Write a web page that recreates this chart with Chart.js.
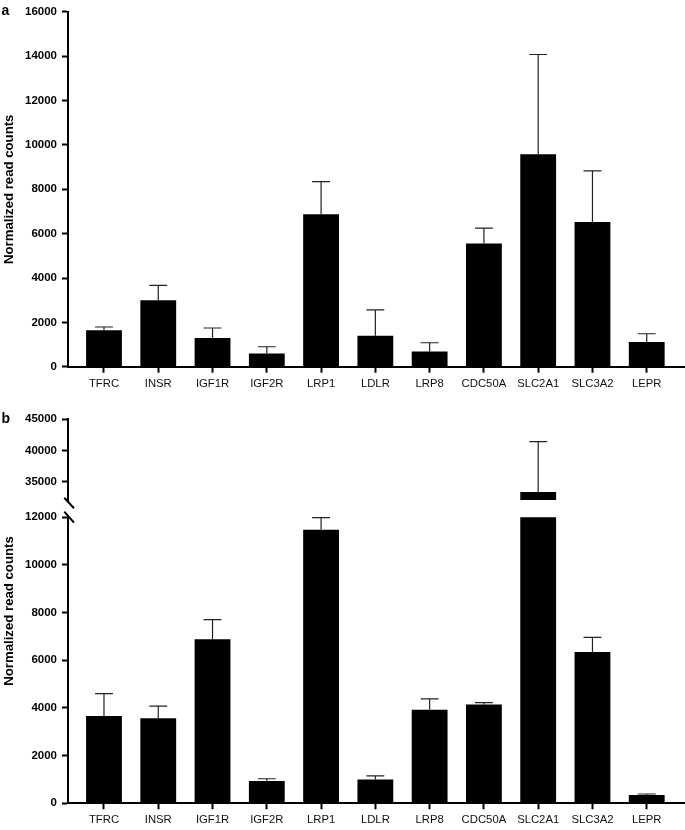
<!DOCTYPE html>
<html>
<head>
<meta charset="utf-8">
<title>Normalized read counts</title>
<script src="https://cdn.jsdelivr.net/npm/chart.js@4.4.1/dist/chart.umd.min.js"></script>
<style>
  html, body { margin: 0; padding: 0; background: #fff; }
  #wrap { position: relative; width: 685px; height: 830px; }
  canvas { position: absolute; left: 0; }
</style>
</head>
<body>
<div id="wrap">
  <canvas id="chartA" width="685" height="400" style="top:0"></canvas>
  <canvas id="chartBLow" width="685" height="430" style="top:400px"></canvas>
  <canvas id="chartBHigh" width="685" height="112" style="top:400px"></canvas>
</div>
<script>
// genes on the x axis, same order in both panels
const genes = ['TFRC', 'INSR', 'IGF1R', 'IGF2R', 'LRP1', 'LDLR', 'LRP8', 'CDC50A', 'SLC2A1', 'SLC3A2', 'LEPR'];

// panel a: mean counts and error (drawn upwards only)
const countsA = [1640, 3000, 1290, 600, 6880, 1395, 690, 5560, 9580, 6520, 1110];
const errorsA = [150, 670, 455, 300, 1470, 1170, 390, 690, 4500, 2310, 375];

// panel b
const countsB = [3660, 3570, 6880, 940, 11480, 1000, 3930, 4150, 33300, 6350, 350];
const errorsB = [940, 510, 830, 90, 510, 150, 450, 70, 8100, 610, 40];

// tick labels
const ticksA = [0, 2000, 4000, 6000, 8000, 10000, 12000, 14000, 16000];
const ticksBLow = [0, 2000, 4000, 6000, 8000, 10000, 12000];
const ticksBHigh = [35000, 40000, 45000];

// broken axis of panel b
const breakLow = 12000;
const breakHigh = 32000;

const FONT = '"Liberation Sans", Arial, Helvetica, sans-serif';

// error bars: line from the bar top up to mean + error, with a cap
const errorBars = {
    id: 'errorBars',
    afterDatasetsDraw(chart) {
        const { ctx, chartArea, scales } = chart;
        const ds = chart.data.datasets[0];
        const meta = chart.getDatasetMeta(0);
        ctx.save();
        ctx.beginPath();
        ctx.rect(chartArea.left, chartArea.top - 1, chartArea.right - chartArea.left, chartArea.bottom - chartArea.top + 1);
        ctx.clip();
        ctx.strokeStyle = '#222';
        ctx.lineWidth = 1.2;
        meta.data.forEach((bar, i) => {
            const top = scales.y.getPixelForValue(ds.data[i].y + ds.errors[i]);
            const half = bar.width / 4;
            ctx.beginPath();
            ctx.moveTo(bar.x, bar.y);
            ctx.lineTo(bar.x, top);
            ctx.moveTo(bar.x - half, top);
            ctx.lineTo(bar.x + half, top);
            ctx.stroke();
        });
        ctx.restore();
    }
};

// panel letters, side title for the split axis, break marks
const extras = {
    id: 'extras',
    afterDraw(chart, args, opts) {
        const { ctx, chartArea } = chart;
        ctx.save();
        ctx.fillStyle = '#000';
        if (opts.panel) {
            ctx.font = 'bold 14px ' + FONT;
            ctx.textAlign = 'left';
            ctx.textBaseline = 'alphabetic';
            ctx.fillText(opts.panel.text, opts.panel.x, opts.panel.y);
        }
        if (opts.sideTitle) {
            ctx.font = 'bold 13.2px ' + FONT;
            ctx.textAlign = 'center';
            ctx.textBaseline = 'middle';
            ctx.translate(opts.sideTitle.x, opts.sideTitle.y);
            ctx.rotate(-Math.PI / 2);
            ctx.fillText(opts.sideTitle.text, 0, 0);
            ctx.setTransform(1, 0, 0, 1, 0, 0);
        }
        if (opts.breakMarks) {
            const l = chartArea.left, t = chartArea.top;
            ctx.strokeStyle = '#000';
            ctx.lineWidth = 2;
            ctx.beginPath();
            ctx.moveTo(l - 3.7, t - 19.6);
            ctx.lineTo(l + 6, t - 9);
            ctx.moveTo(l - 3.7, t - 5.6);
            ctx.lineTo(l + 6, t + 5.4);
            ctx.stroke();
        }
        ctx.restore();
    }
};

function xScale(showLabels, height) {
    return {
        type: 'linear',
        display: showLabels,
        min: -0.663,
        max: 10.705,
        offset: false,
        afterBuildTicks: s => { s.ticks = genes.map((g, i) => ({ value: i })); },
        afterFit: s => { s.height = height; },
        border: { display: true, color: '#000', width: 2 },
        grid: { display: true, offset: false, drawOnChartArea: false, drawTicks: true, tickLength: 6, tickWidth: 2, tickColor: '#000' },
        ticks: {
            autoSkip: false,
            maxRotation: 0,
            padding: 4,
            color: '#111',
            font: { family: FONT, size: 11.3 },
            callback: v => genes[v]
        }
    };
}

function yScale(min, max, tickList, title) {
    return {
        min: min,
        max: max,
        afterBuildTicks: s => { s.ticks = tickList.map(v => ({ value: v })); },
        afterFit: s => { s.width = 68; },
        border: { display: true, color: '#000', width: 2 },
        grid: { display: true, drawOnChartArea: false, drawTicks: true, tickLength: 6, tickWidth: 2, tickColor: '#000' },
        ticks: {
            padding: 5,
            color: '#000',
            font: { family: FONT, size: 11.5, weight: 'bold' },
            callback: v => String(v)
        },
        title: title ? {
            display: true,
            text: title,
            color: '#000',
            padding: { top: 1, bottom: 0 },
            font: { family: FONT, size: 13.2, weight: 'bold' }
        } : { display: false }
    };
}

function barDataset(counts, errors) {
    return {
        data: counts.map((v, i) => ({ x: i, y: v })),
        errors: errors,
        backgroundColor: '#000',
        borderWidth: 0,
        categoryPercentage: 1,
        barPercentage: 0.66,
        clip: 0
    };
}

const baseOptions = {
    responsive: false,
    devicePixelRatio: 1,
    animation: false,
    events: []
};

// Panel a
new Chart(document.getElementById('chartA'), {
    type: 'bar',
    data: { datasets: [barDataset(countsA, errorsA)] },
    options: {
        ...baseOptions,
        layout: { padding: { top: 11, left: 0, right: 0, bottom: 0 } },
        scales: {
            x: xScale(true, 33.3),
            y: yScale(0, 16000, ticksA, 'Normalized read counts')
        },
        plugins: {
            legend: { display: false },
            tooltip: { enabled: false },
            extras: { panel: { text: 'a', x: 1.5, y: 15 } }
        }
    },
    plugins: [errorBars, extras]
});

// Panel b, lower segment (0 - 12000)
new Chart(document.getElementById('chartBLow'), {
    type: 'bar',
    data: { datasets: [barDataset(countsB, errorsB)] },
    options: {
        ...baseOptions,
        layout: { padding: { top: 117.3, left: 0, right: 0, bottom: 0 } },
        scales: {
            x: xScale(true, 26.7),
            y: yScale(0, breakLow, ticksBLow, null)
        },
        plugins: {
            legend: { display: false },
            tooltip: { enabled: false },
            extras: {
                panel: { text: 'b', x: 1.5, y: 23.3 },
                sideTitle: { text: 'Normalized read counts', x: 8.9, y: 211 },
                breakMarks: true
            }
        }
    },
    plugins: [errorBars, extras]
});

// Panel b, upper segment (32000 - 45000)
new Chart(document.getElementById('chartBHigh'), {
    type: 'bar',
    data: { datasets: [barDataset(countsB, errorsB)] },
    options: {
        ...baseOptions,
        layout: { padding: { top: 19.3, left: 0, right: 0, bottom: 10.3 } },
        scales: {
            x: xScale(false, 0),
            y: yScale(breakHigh, 45000, ticksBHigh, null)
        },
        plugins: {
            legend: { display: false },
            tooltip: { enabled: false }
        }
    },
    plugins: [errorBars]
});
</script>
</body>
</html>
